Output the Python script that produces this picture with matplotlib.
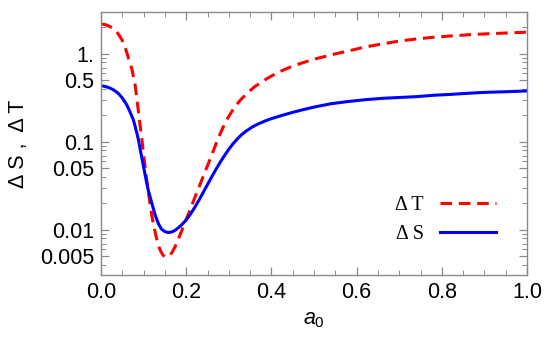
import matplotlib
matplotlib.use('Agg')
import matplotlib.pyplot as plt
from matplotlib.ticker import FixedLocator, FixedFormatter, MultipleLocator, NullFormatter

# data
a0_T = [0, 0.01, 0.021, 0.03, 0.037, 0.043, 0.049, 0.055, 0.06,
        0.066, 0.072, 0.076, 0.08, 0.084, 0.088, 0.0915, 0.095, 0.099,
        0.103, 0.107, 0.111, 0.115, 0.119, 0.124, 0.13, 0.135, 0.14,
        0.145, 0.15, 0.154, 0.16, 0.167, 0.174, 0.181, 0.189, 0.197,
        0.205, 0.213, 0.221, 0.23, 0.24, 0.252, 0.264, 0.275, 0.287,
        0.298, 0.31, 0.326, 0.342, 0.36, 0.381, 0.4, 0.42, 0.444,
        0.47, 0.5, 0.54, 0.58, 0.62, 0.66, 0.7, 0.74, 0.78,
        0.82, 0.86, 0.9, 0.95, 1.0]
dT = [2.19, 2.16, 2.05, 1.93, 1.79, 1.62, 1.45, 1.24, 1.06,
      0.841, 0.687, 0.556, 0.444, 0.316, 0.219, 0.158, 0.117, 0.0794,
      0.0550, 0.0380, 0.0275, 0.0200, 0.0148, 0.0110, 0.00813, 0.00661, 0.00575,
      0.00519, 0.00495, 0.00490, 0.00507, 0.00556, 0.00646, 0.00776, 0.00966, 0.0121,
      0.0151, 0.0190, 0.0238, 0.0306, 0.0406, 0.0569, 0.0798, 0.110, 0.148,
      0.188, 0.234, 0.295, 0.355, 0.422, 0.495, 0.562, 0.631, 0.708,
      0.785, 0.871, 0.977, 1.08, 1.20, 1.30, 1.40, 1.48, 1.55,
      1.60, 1.65, 1.69, 1.73, 1.77]

a0_S = [0, 0.01, 0.02, 0.03, 0.04, 0.05, 0.056, 0.06, 0.065, 0.07,
        0.076, 0.08, 0.084, 0.088, 0.0915, 0.095, 0.099, 0.103, 0.107, 0.111,
        0.115, 0.12, 0.127, 0.135, 0.142, 0.15, 0.158, 0.165, 0.172, 0.181,
        0.19, 0.2, 0.21, 0.22, 0.23, 0.24, 0.25, 0.26, 0.27, 0.28,
        0.29, 0.3, 0.31, 0.32, 0.33, 0.34, 0.355, 0.37, 0.385, 0.4,
        0.42, 0.444, 0.47, 0.5, 0.54, 0.58, 0.62, 0.66, 0.7, 0.74,
        0.78, 0.82, 0.86, 0.9, 0.95, 1.0]
dS = [0.435, 0.427, 0.412, 0.389, 0.359, 0.316, 0.286, 0.266, 0.237, 0.209,
      0.178, 0.151, 0.127, 0.105, 0.0851, 0.0692, 0.0550, 0.0437, 0.0347, 0.0282,
      0.0240, 0.0195, 0.0148, 0.0117, 0.0102, 0.00955, 0.00933, 0.00944, 0.00977, 0.0105,
      0.0115, 0.0130, 0.0151, 0.0180, 0.0218, 0.0267, 0.0328, 0.0402, 0.0489, 0.0589,
      0.0701, 0.0826, 0.0955, 0.108, 0.121, 0.132, 0.148, 0.161, 0.173, 0.184,
      0.197, 0.213, 0.230, 0.249, 0.272, 0.288, 0.302, 0.313, 0.320, 0.327,
      0.339, 0.347, 0.357, 0.366, 0.372, 0.380]

y_ticks = [0.005, 0.01, 0.05, 0.1, 0.5, 1.0]
y_labels = ['0.005', '0.01', '0.05', '0.1', '0.5', '1.']

plt.rcParams['font.family'] = ['Liberation Sans', 'DejaVu Sans']
plt.rcParams['mathtext.fontset'] = 'custom'
plt.rcParams['mathtext.it'] = 'Liberation Sans:italic'
plt.rcParams['mathtext.rm'] = 'Liberation Sans'

fig = plt.figure(figsize=(5.45, 3.42), dpi=100)
ax = fig.add_axes([101 / 545, 1 - 275 / 342, 426 / 545, 263 / 342])

ax.plot(a0_T, dT, color='#ff0000', lw=2.2, ls=(0, (3.8, 2.2)), label='Δ T')
ax.plot(a0_S, dS, color='#0000ff', lw=2.2, label='Δ S')

ax.set_yscale('log')
ax.set_xlim(0, 1)
ax.set_ylim(0.00307, 3.0)

# ticks
ax.xaxis.set_major_locator(MultipleLocator(0.2))
ax.xaxis.set_minor_locator(MultipleLocator(0.05))
ax.xaxis.set_major_formatter(plt.FuncFormatter(lambda v, p: f'{v:.1f}'))
minors = [m * 10.0 ** e for e in range(-3, 1) for m in range(1, 10)]
minors = [v for v in minors if v not in y_ticks and 0.003 <= v <= 3]
ax.yaxis.set_major_locator(FixedLocator(y_ticks))
ax.yaxis.set_major_formatter(FixedFormatter(y_labels))
ax.yaxis.set_minor_locator(FixedLocator(minors))
ax.yaxis.set_minor_formatter(NullFormatter())

grey = '#8a8a8a'
ax.tick_params(which='both', direction='in', top=True, right=True,
               color=grey, labelsize=15.5, labelcolor='black', pad=5)
ax.tick_params(which='major', length=6, width=0.9)
ax.tick_params(which='minor', length=3.5, width=0.7)
for s in ax.spines.values():
    s.set_color(grey)
    s.set_linewidth(1.0)

ax.set_xlabel('$a_0$', fontsize=15.5, labelpad=4)
ax.set_ylabel('Δ S ,  Δ T', fontsize=15.5, labelpad=8)

leg = ax.legend(loc='lower right', bbox_to_anchor=(0.97, 0.05), frameon=False,
                markerfirst=False, handlelength=2.8, handletextpad=0.8,
                labelspacing=0.5, prop={'family': 'Liberation Serif', 'size': 14.5})

fig.savefig('out.png', dpi=100)
